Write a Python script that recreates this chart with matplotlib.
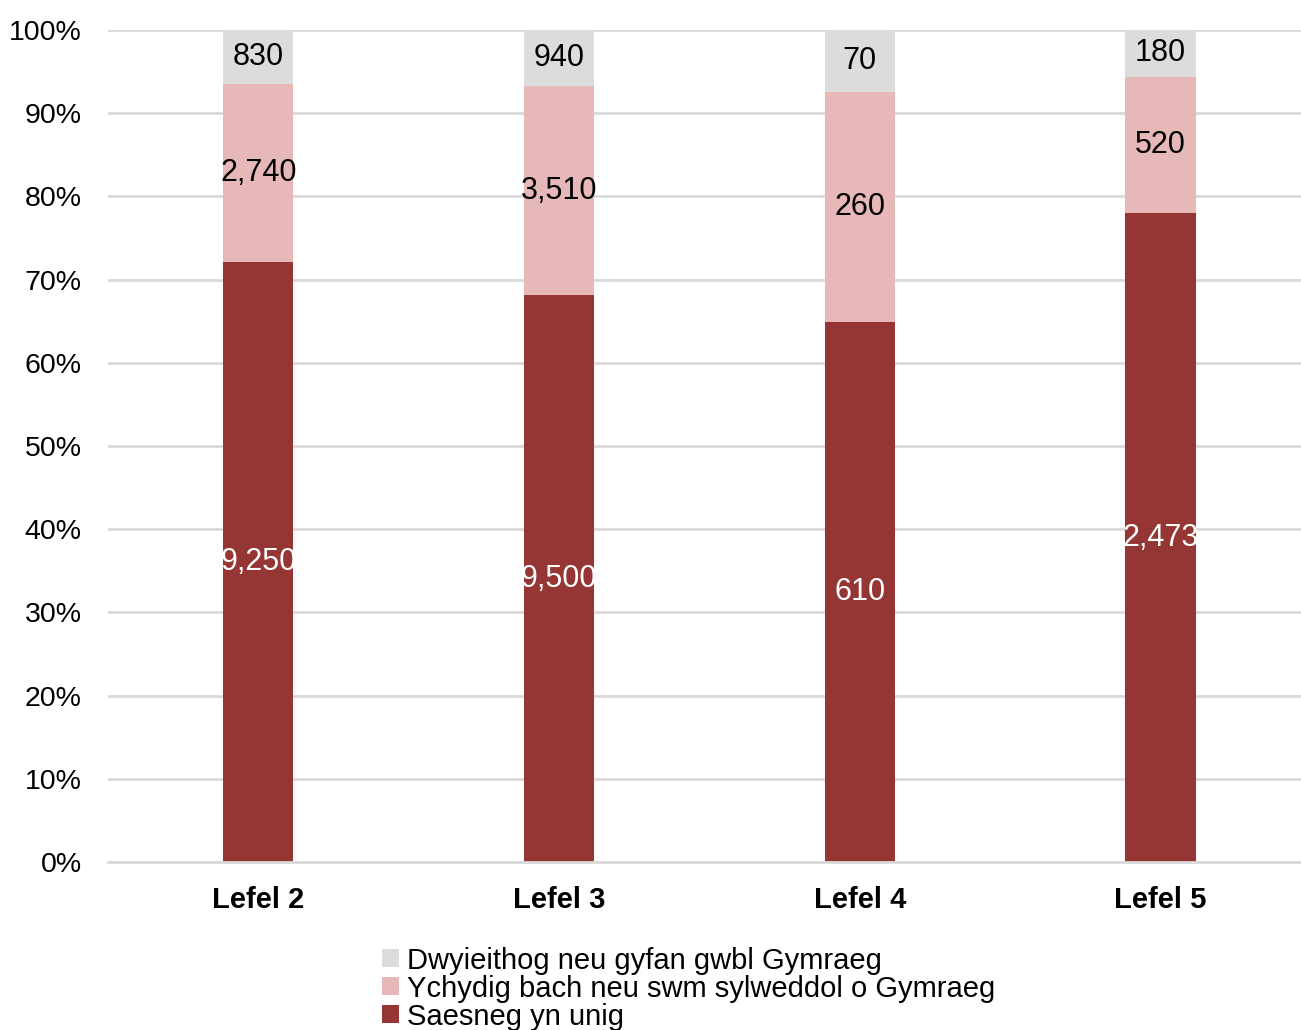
import matplotlib.pyplot as plt
import numpy as np

plt.rcParams["font.family"] = ["Liberation Sans", "DejaVu Sans"]

categories = ["Lefel 2", "Lefel 3", "Lefel 4", "Lefel 5"]
english_only = [9250, 9500, 610, 2473]
some_welsh = [2740, 3510, 260, 520]
bilingual = [830, 940, 70, 180]

series_names = [
    "Saesneg yn unig",
    "Ychydig bach neu swm sylweddol o Gymraeg",
    "Dwyieithog neu gyfan gwbl Gymraeg",
]
colors = ["#963634", "#e6b8b7", "#dcdcdc"]
label_colors = ["white", "black", "black"]

data = np.array([english_only, some_welsh, bilingual], dtype=float)
totals = data.sum(axis=0)
shares = data / totals * 100

fig = plt.figure(figsize=(13.01, 10.30), dpi=100)
ax = fig.add_axes([0.083, 0.163, 0.9246, 0.808])

x = np.arange(len(categories))
bottom = np.zeros(len(categories))
bars = []
for i in range(3):
    b = ax.bar(x, shares[i], 0.233, bottom=bottom, color=colors[i],
               label=series_names[i], zorder=2)
    bars.append(b)
    for j in range(len(categories)):
        ax.text(x[j], bottom[j] + shares[i][j] / 2, f"{int(data[i][j]):,}",
                ha="center", va="center", fontsize=22, color=label_colors[i],
                zorder=3)
    bottom += shares[i]

ax.set_xlim(-0.5, 3.5)
ax.set_ylim(0, 100)
ax.set_yticks(np.arange(0, 101, 10))
ax.set_yticklabels([f"{v}%" for v in range(0, 101, 10)], fontsize=20.5)
ax.set_xticks(x)
ax.set_xticklabels(categories, fontsize=21, fontweight="bold")
ax.tick_params(axis="both", length=0)
ax.tick_params(axis="y", pad=19)
ax.tick_params(axis="x", pad=17)
ax.grid(axis="y", color="#d9d9d9", linewidth=2, zorder=0)
for side in ["top", "right", "left"]:
    ax.spines[side].set_visible(False)
ax.spines["bottom"].set_color("#d9d9d9")
ax.spines["bottom"].set_linewidth(2)

handles = [bars[2], bars[1], bars[0]]
labels = [series_names[2], series_names[1], series_names[0]]
fig.legend(handles, labels, loc="upper left", bbox_to_anchor=(0.294, 0.081),
           frameon=False, fontsize=21, handlelength=0.55, handleheight=0.55,
           handletextpad=0.3, labelspacing=0.0, borderpad=0, borderaxespad=0)

fig.savefig("out.png", dpi=100)
